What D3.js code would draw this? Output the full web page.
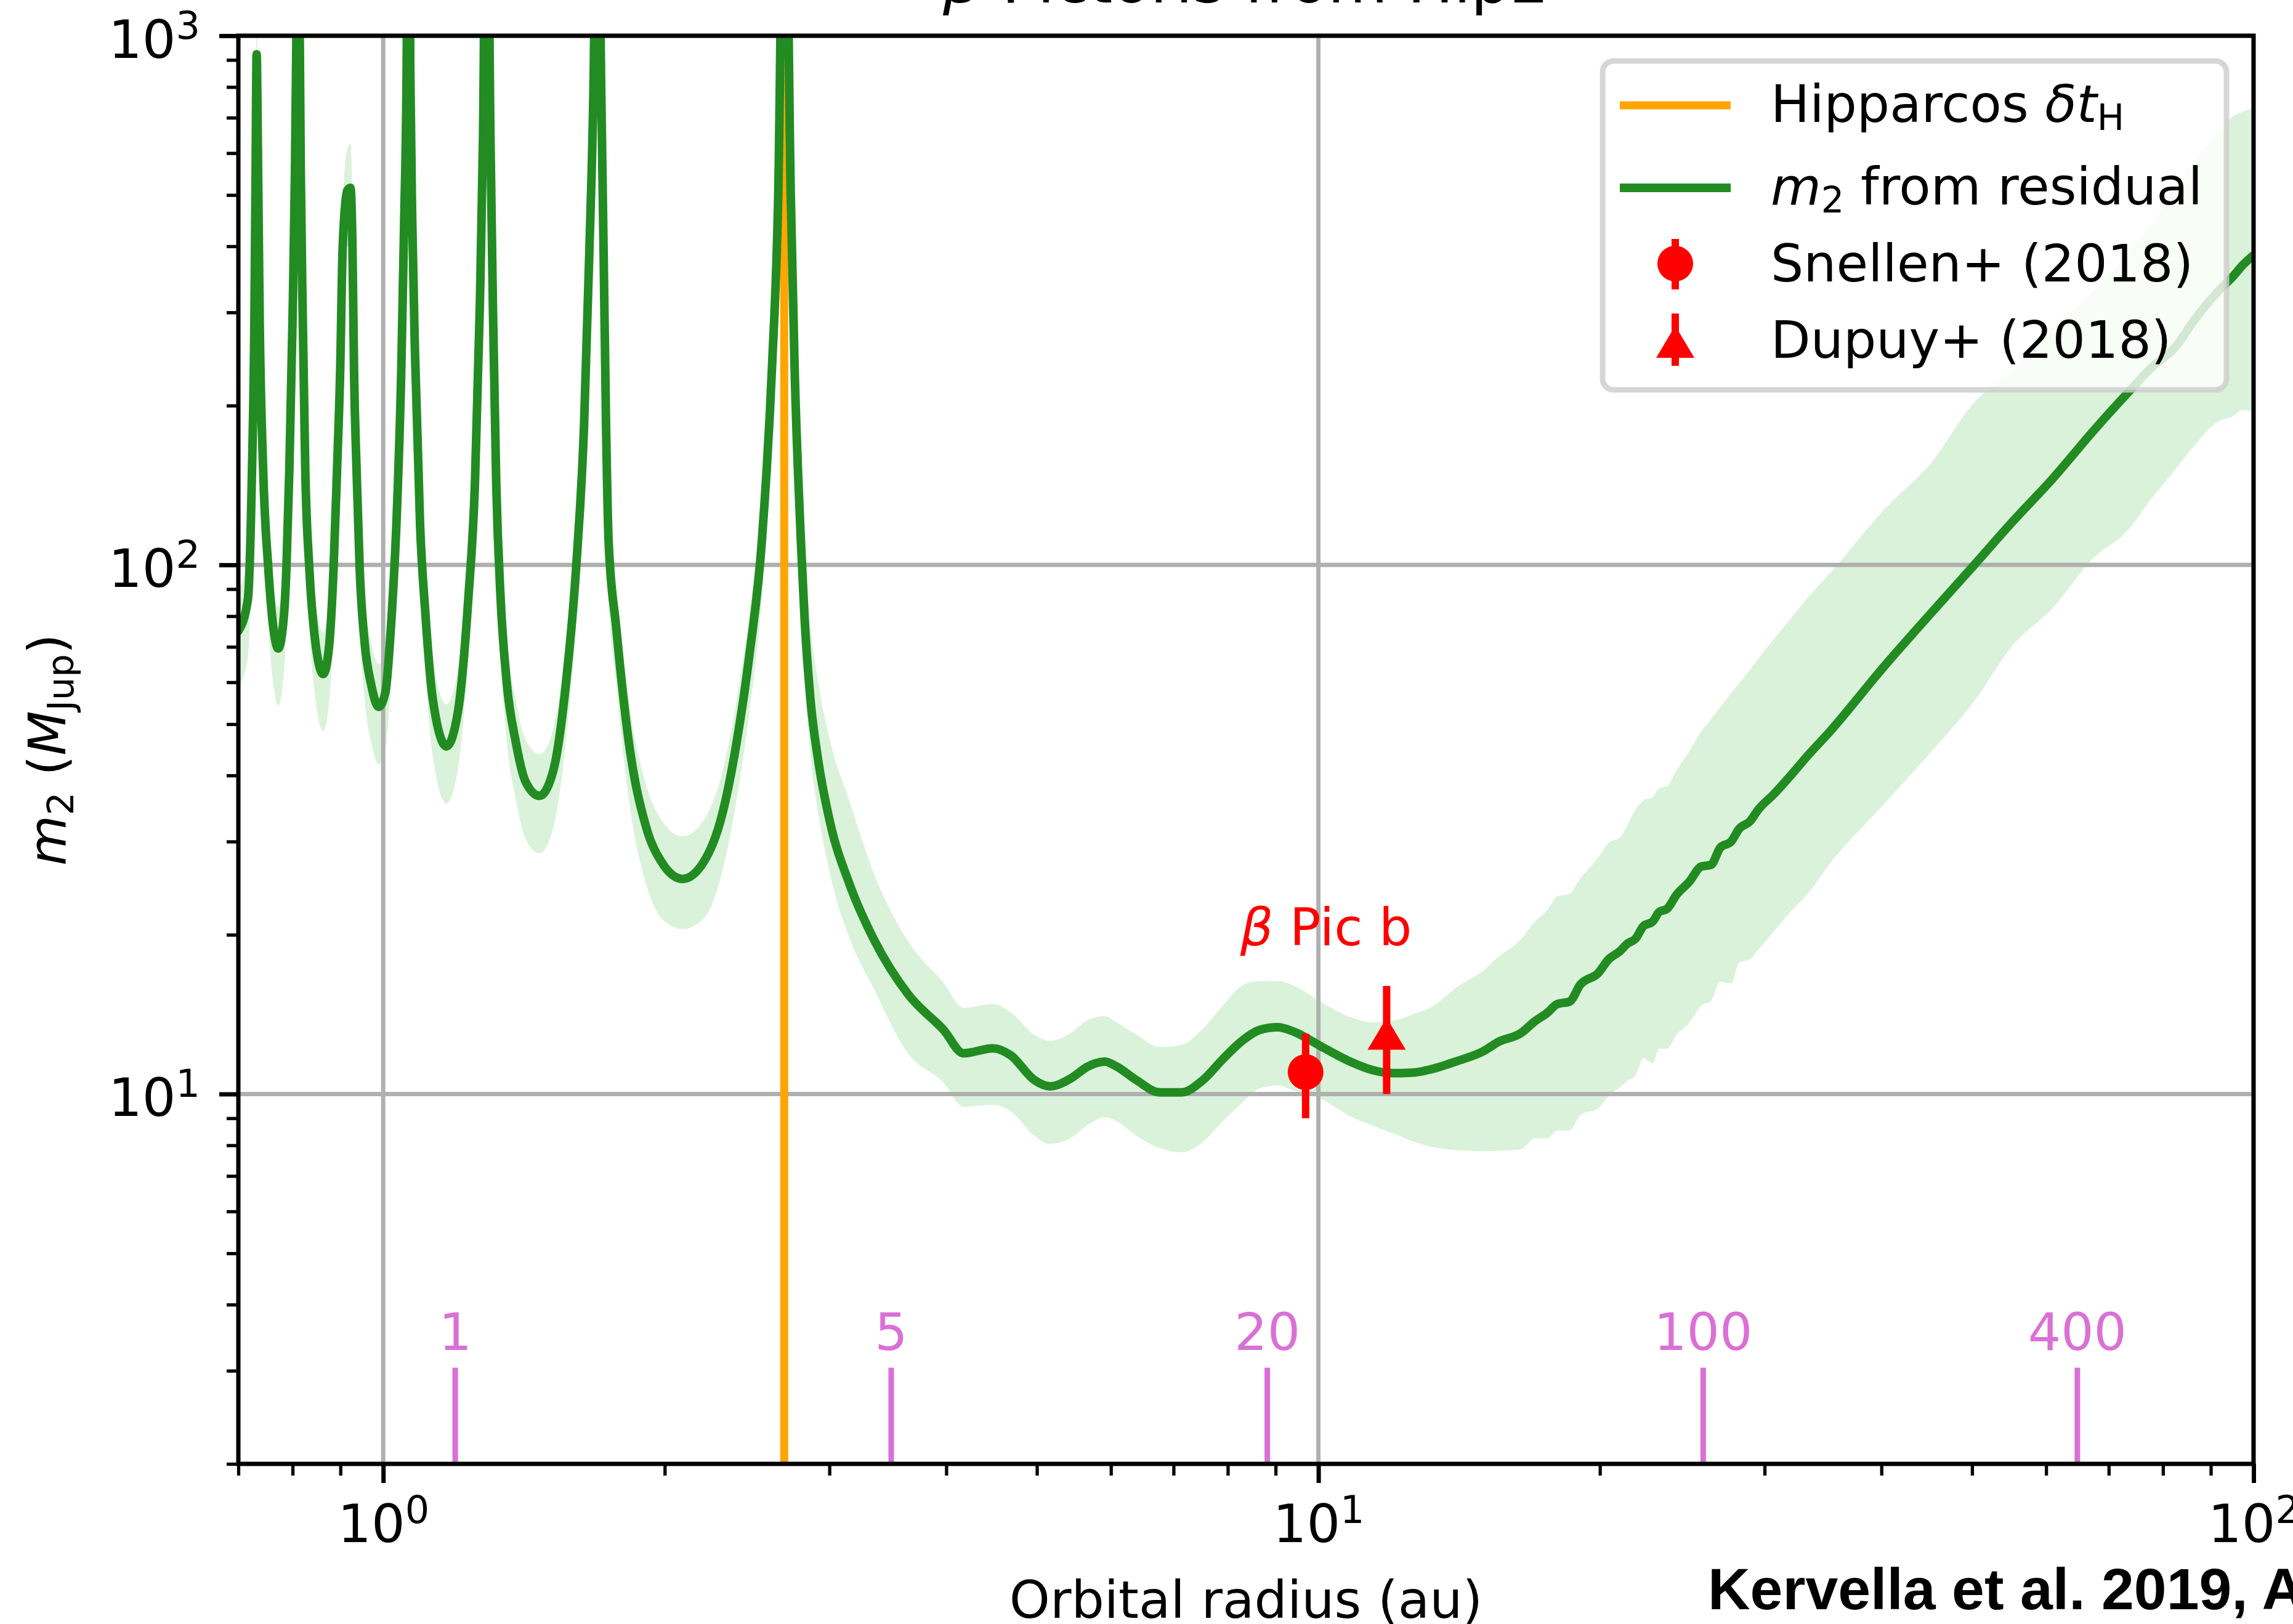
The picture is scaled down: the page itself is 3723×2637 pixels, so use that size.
<!DOCTYPE html>
<html><head><meta charset="utf-8">
<script src="https://cdn.jsdelivr.net/npm/d3@7"></script>
<style>body{margin:0;background:#fff}svg{display:block}text{font-family:"DejaVu Sans",sans-serif}</style>
</head><body><svg id="c" width="3723" height="2637"></svg>
<script>
// ---- data ----
const radius = [0.700,0.7166,0.7239,0.7282,0.7304,0.7322,0.7349,0.7378,0.7441,0.7536,
0.7632,0.7721,0.7826,0.7879,0.7936,0.7998,0.8047,0.8076,0.8110,0.8142,
0.8163,0.8204,0.8254,0.8337,0.8464,0.8627,0.8748,0.8849,0.8925,0.8994,
0.9050,0.9154,0.9224,0.9271,0.9307,0.9365,0.9437,0.9554,0.9700,0.9890,
1.0051,1.0205,1.0335,1.0454,1.0529,1.0593,1.0641,1.0690,1.0742,1.0815,
1.0952,1.1088,1.1294,1.1686,1.2016,1.2332,1.2533,1.2681,1.2785,1.2902,
1.3022,1.3103,1.3209,1.3351,1.3559,1.3855,1.4201,1.4697,1.5203,1.5679,
1.6074,1.6396,1.6609,1.6786,1.6943,1.7100,1.7207,1.7310,1.7418,1.7746,
1.8302,1.9110,1.9830,2.0903,2.2029,2.3014,2.3883,2.4632,2.5403,2.6042,
2.6447,2.6859,2.7278,2.7537,2.7966,2.8212,2.8625,2.9183,3.0049,3.1530,
3.3420,3.6449,3.9765,4.1735,4.4865,4.6863,4.9677,5.1625,5.4443,5.6590,
5.9105,6.0846,6.3860,6.7677,7.1375,7.5272,7.8998,8.2910,8.6593,9.0445,
9.3993,10.060,10.762,11.404,12.035,12.705,13.204,14.049,15.066,15.539,
16.467,17.04,17.58,18.00,18.56,19.07,19.90,20.44,21.00,21.42,
21.83,22.26,22.78,23.14,23.59,24.15,24.90,25.68,26.29,26.90,
27.64,28.18,28.96,29.52,30.69,31.90,33.42,35.15,40.24,45.35,
50.28,55.34,60.84,67.53,73.12,77.92,82.38,86.40,91.35,95.07,
97.37,100];
const m2 = [75,86,151,288,550,922,550,288,151,98.4,
75.8,69.5,79.1,98.4,151,288,550,1005,3000,1005,
550,288,151,98.4,71.1,62.2,69.6,98.4,151,232,
398,510,516,398,232,151,98.4,71.1,59.8,53.9,
57.3,79.1,122,232,443,846,3000,846,443,250,
118,82,56,45.4,52.6,86.5,142,301,637,3000,
637,301,142,86.5,59.5,46.4,38.9,36.6,40.9,59.5,
97.9,183,387,818,3000,818,387,183,111,76.3,
46.4,31.9,27.5,25.5,27.5,33.5,46.4,67.4,111,235,
497,3000,497,235,111,80,55.9,42.7,32.6,24.9,
19.7,15.4,13.2,11.94,12.2,11.84,10.63,10.34,10.72,11.25,
11.52,11.27,10.63,10.07,10.07,10.63,11.63,12.61,13.22,13.37,
13.13,12.31,11.56,11.11,10.95,10.99,11.14,11.53,12.09,12.52,
13.04,13.72,14.25,14.79,14.95,16.12,16.90,17.98,18.61,19.26,
19.65,20.76,21.19,22.08,22.38,23.79,25.14,26.92,27.1,29.22,
30.03,31.71,32.81,34.43,36.87,39.75,43.75,48.2,64.2,81.6,
100,121.1,144.9,179.8,210,236.7,257.4,290,327,351,
368.6,385];
const m2Low = [58.5,67,118,225,429,719,429,225,118,76.8,
59.1,54.2,61.7,76.8,118,225,429,784,2340,784,
429,225,118,76.8,55.5,48.5,54.3,76.8,118,181,
310,398,402,310,181,118,76.8,55.5,46.6,42,
44.7,61.7,95,181,346,660,2340,660,346,195,
92,64,43.7,35.4,41,67.5,111,235,497,2340,
497,235,111,67.5,46.4,36.2,30.3,28.5,31.9,46.4,
76.4,143,302,638,2340,638,302,143,86.6,59.5,
36.2,24.9,21.5,20.5,21.5,26.1,36.2,52.6,86.6,183,
388,2340,388,183,87,63,44,34,26,19.7,
15.9,11.9,10.5,9.46,9.54,9.29,8.34,8.05,8.27,8.72,
9.04,8.88,8.34,7.90,7.76,8.12,8.88,9.63,10.25,10.38,
10.16,9.80,9.12,8.72,8.42,8.1,7.95,7.83,7.80,7.81,
7.86,8.25,8.25,8.53,8.53,9.14,9.39,9.92,10.3,10.6,
10.84,11.69,11.45,12.18,12.18,12.95,13.6,14.7,15.0,16.3,
16.2,17.7,18.0,18.7,20.3,22.0,24.0,27.1,35.3,44.6,
55.3,70.7,82.5,103.4,115.5,134,151,168,186,191,
196,195];
const m2High = [90,103,181,346,660,1106,660,346,181,118,
91,83.4,94.9,118,181,346,660,1206,3600,1206,
660,346,181,118,85.3,74.6,83.5,118,181,278,
478,612,626,478,278,181,118,85.3,71.8,65,
68.8,94.9,146,278,532,1015,3600,1015,532,300,
142,98,67,54.5,63.1,103.8,170,361,764,3600,
764,361,170,103.8,71.4,55.7,46.7,43.9,49.1,71.4,
118,220,464,982,3600,982,464,220,133,91.6,
55.7,38.3,33,30.7,33,40.2,55.7,80.9,133,282,
596,3600,596,282,145,108,77,60,46.5,35.7,
26.3,19.4,16.2,14.55,14.81,14.29,12.95,12.6,13.06,13.78,
14.03,13.66,12.95,12.27,12.38,13.3,14.68,16.05,16.35,16.35,
16.05,14.94,14.03,13.66,13.77,14.2,14.6,15.9,17.2,18.1,
19.6,21.19,22.3,23.63,23.9,25.6,27.9,29.9,30.5,32.3,
34.5,35.87,36.4,37.88,38.14,40.85,44.3,48.5,51.1,53.8,
57.3,59.7,63.5,66.4,72.4,78.7,87,96,127,157,
203,234,281,329,385,443,515,578,650,704,
718,729];

const hipparcosRadius = 2.684;
const periodYears = ["1","5","20","100","400"];
const periodRadius = [1.194, 3.493, 8.818, 25.79, 64.8];
const refNames = ["Snellen+ (2018)", "Dupuy+ (2018)"];
const refRadius = [9.69, 11.83];
const refMass = [11, 13];
const refErr = [2, 3];
const xMajorTicks = [1, 10, 100];
const xTickExp = ["0", "1", "2"];
const yMajorTicks = [10, 100, 1000];
const yTickExp = ["1", "2", "3"];
const xMinorTicks = [0.7,0.8,0.9,2,3,4,5,6,7,8,9,20,30,40,50,60,70,80,90];
const yMinorTicks = [2,3,4,5,6,7,8,9,20,30,40,50,60,70,80,90,200,300,400,500,600,700,800,900];

// ---- layout ----
const W = 3723, H = 2637, L = 387, R = 3659, T = 58, B = 2377;
const FS = 84;
const GREEN = "#228b22", FILL = "#daf2da", ORANGE = "#ffa500", ORCHID = "#da70d6", RED = "#ff0000";
const svg = d3.select("#c");
svg.append("rect").attr("width", W).attr("height", H).attr("fill", "#fff");
const x = d3.scaleLog().domain([0.7, 100]).range([L, R]);
const y = d3.scaleLog().domain([2, 1000]).range([B, T]);

svg.append("defs").append("clipPath").attr("id", "clip")
  .append("rect").attr("x", L).attr("y", T).attr("width", R - L).attr("height", B - T);
const plot = svg.append("g").attr("clip-path", "url(#clip)");

const data = radius.map((r, i) => ({ r, m: m2[i], lo: m2Low[i], hi: m2High[i] }));

// uncertainty band
plot.append("path").datum(data)
  .attr("d", d3.area().x(d => x(d.r)).y0(d => y(d.lo)).y1(d => y(d.hi)).curve(d3.curveMonotoneX))
  .attr("fill", FILL);

// grid
const grid = plot.append("g").attr("stroke", "#b0b0b0").attr("stroke-width", 7);
xMajorTicks.forEach(v => grid.append("line").attr("x1", x(v)).attr("x2", x(v)).attr("y1", T).attr("y2", B));
yMajorTicks.forEach(v => grid.append("line").attr("x1", L).attr("x2", R).attr("y1", y(v)).attr("y2", y(v)));

// Hipparcos line
plot.append("line").attr("x1", x(hipparcosRadius)).attr("x2", x(hipparcosRadius))
  .attr("y1", T).attr("y2", B).attr("stroke", ORANGE).attr("stroke-width", 13);

// m2 curve
plot.append("path").datum(data)
  .attr("d", d3.line().x(d => x(d.r)).y(d => y(d.m)).curve(d3.curveMonotoneX))
  .attr("fill", "none").attr("stroke", GREEN).attr("stroke-width", 14).attr("stroke-linejoin", "round").attr("stroke-linecap", "round");

// period markers
periodRadius.forEach((r, i) => {
  plot.append("line").attr("x1", x(r)).attr("x2", x(r)).attr("y1", y(2)).attr("y2", y(3.04))
    .attr("stroke", ORCHID).attr("stroke-width", 9);
  plot.append("text").attr("x", x(r)).attr("y", y(3.28)).attr("text-anchor", "middle")
    .attr("font-size", FS).attr("fill", ORCHID).text(periodYears[i]);
});

// reference measurements
const triPath = "M0,-26L31,26L-31,26Z";
refRadius.forEach((r, i) => {
  const cx = x(r);
  plot.append("line").attr("x1", cx).attr("x2", cx)
    .attr("y1", y(refMass[i] - refErr[i])).attr("y2", y(refMass[i] + refErr[i]))
    .attr("stroke", RED).attr("stroke-width", 12);
  if (i === 0) plot.append("circle").attr("cx", cx).attr("cy", y(refMass[i])).attr("r", 29).attr("fill", RED);
  else plot.append("path").attr("d", triPath).attr("transform", `translate(${cx},${y(refMass[i])})`).attr("fill", RED);
});

// annotation
const ann = plot.append("text").attr("x", x(8.25)).attr("y", y(19.08)).attr("font-size", FS).attr("fill", RED);
ann.append("tspan").attr("font-style", "italic").text("β");
ann.append("tspan").text(" Pic b");

// spines
svg.append("rect").attr("x", L).attr("y", T).attr("width", R - L).attr("height", B - T)
  .attr("fill", "none").attr("stroke", "#000").attr("stroke-width", 7);

// axes
function styleAxis(g, w) {
  g.select(".domain").remove();
  g.selectAll(".tick line").attr("stroke", "#000").attr("stroke-width", w);
  g.selectAll(".tick text").remove();
}
const gxMin = svg.append("g").attr("transform", `translate(0,${B})`)
  .call(d3.axisBottom(x).tickValues(xMinorTicks).tickSize(19).tickFormat(""));
styleAxis(gxMin, 5.3);
const gxMaj = svg.append("g").attr("transform", `translate(0,${B})`)
  .call(d3.axisBottom(x).tickValues(xMajorTicks).tickSize(31).tickFormat(""));
styleAxis(gxMaj, 7);
gxMaj.selectAll(".tick").each(function (d, i) {
  const t = d3.select(this).append("text").attr("y", 2504 - B).attr("text-anchor", "middle")
    .attr("font-size", 86).attr("fill", "#000");
  t.append("tspan").text("10");
  t.append("tspan").attr("dy", -31).attr("font-size", 62).text(xTickExp[i]);
});
const gyMin = svg.append("g").attr("transform", `translate(${L},0)`)
  .call(d3.axisLeft(y).tickValues(yMinorTicks).tickSize(19).tickFormat(""));
styleAxis(gyMin, 5.3);
const gyMaj = svg.append("g").attr("transform", `translate(${L},0)`)
  .call(d3.axisLeft(y).tickValues(yMajorTicks).tickSize(31).tickFormat(""));
styleAxis(gyMaj, 7);
gyMaj.selectAll(".tick").each(function (d, i) {
  const t = d3.select(this).append("text").attr("x", -62).attr("y", 35).attr("text-anchor", "end")
    .attr("font-size", 86).attr("fill", "#000");
  t.append("tspan").text("10");
  t.append("tspan").attr("dy", -31).attr("font-size", 62).text(yTickExp[i]);
});

// axis labels
svg.append("text").attr("x", (L + R) / 2).attr("y", 2627).attr("text-anchor", "middle")
  .attr("font-size", FS).text("Orbital radius (au)");
const yl = svg.append("text").attr("transform", `translate(106,${(T + B) / 2}) rotate(-90)`)
  .attr("text-anchor", "middle").attr("font-size", FS);
yl.append("tspan").attr("font-style", "italic").text("m");
yl.append("tspan").attr("font-size", 59).attr("dy", 13).text("2");
yl.append("tspan").attr("dy", -13).text(" (");
yl.append("tspan").attr("font-style", "italic").text("M");
yl.append("tspan").attr("font-size", 59).attr("dy", 13).text("Jup");
yl.append("tspan").attr("dy", -13).text(")");

// title (mostly above the frame, as in the reference)
const tt = svg.append("text").attr("x", (L + R) / 2).attr("y", 4).attr("text-anchor", "middle").attr("font-size", 100);
tt.append("tspan").attr("font-style", "italic").text("β");
tt.append("tspan").text(" Pictoris from Hip2");

// credit
svg.append("text").attr("x", 2773).attr("y", 2613).attr("font-size", 95).attr("font-weight", "bold")
  .style("font-family", "'Liberation Sans', Arial, sans-serif").text("Kervella et al. 2019, A&A");

// legend
const lg = svg.append("g");
lg.append("rect").attr("x", 2602).attr("y", 99).attr("width", 1013).attr("height", 534).attr("rx", 18)
  .attr("fill", "#fff").attr("fill-opacity", 0.8).attr("stroke", "#cccccc").attr("stroke-opacity", 0.8).attr("stroke-width", 9);
lg.append("line").attr("x1", 2630).attr("x2", 2810).attr("y1", 171).attr("y2", 171).attr("stroke", ORANGE).attr("stroke-width", 13);
lg.append("line").attr("x1", 2630).attr("x2", 2810).attr("y1", 305).attr("y2", 305).attr("stroke", GREEN).attr("stroke-width", 14);
lg.append("line").attr("x1", 2720).attr("x2", 2720).attr("y1", 388).attr("y2", 470).attr("stroke", RED).attr("stroke-width", 12);
lg.append("circle").attr("cx", 2720).attr("cy", 428).attr("r", 29).attr("fill", RED);
lg.append("line").attr("x1", 2720).attr("x2", 2720).attr("y1", 509).attr("y2", 594).attr("stroke", RED).attr("stroke-width", 12);
lg.append("path").attr("d", triPath).attr("transform", "translate(2720,555)").attr("fill", RED);
const t1 = lg.append("text").attr("x", 2875).attr("y", 198).attr("font-size", FS);
t1.append("tspan").text("Hipparcos ");
t1.append("tspan").attr("font-style", "italic").text("δt");
t1.append("tspan").attr("font-size", 59).attr("dy", 13).text("H");
const t2 = lg.append("text").attr("x", 2875).attr("y", 332).attr("font-size", FS);
t2.append("tspan").attr("font-style", "italic").text("m");
t2.append("tspan").attr("font-size", 59).attr("dy", 13).text("2");
t2.append("tspan").attr("dy", -13).text(" from residual");
lg.append("text").attr("x", 2875).attr("y", 457).attr("font-size", FS).text(refNames[0]);
lg.append("text").attr("x", 2875).attr("y", 581).attr("font-size", FS).text(refNames[1]);
</script></body></html>
